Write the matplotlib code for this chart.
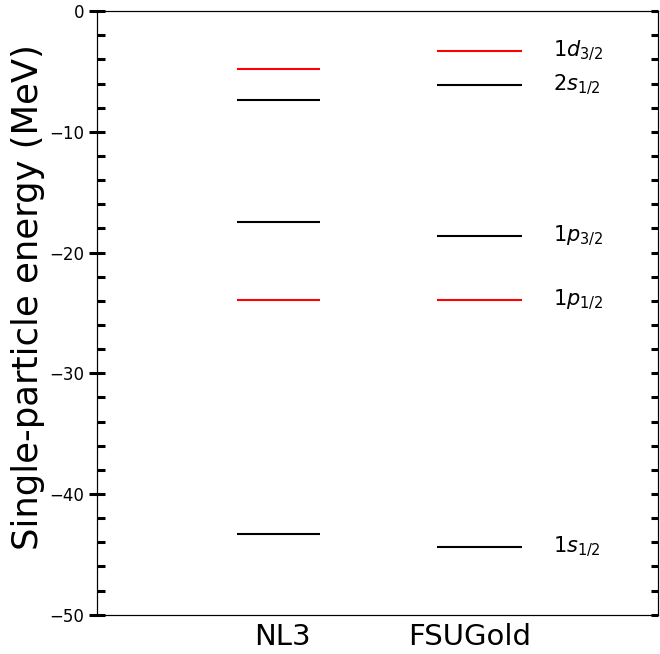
import matplotlib.pyplot as plt
from matplotlib.ticker import MultipleLocator

# single-particle levels (MeV)
models = ["NL3", "FSUGold"]
states = [r"$1d_{3/2}$", r"$2s_{1/2}$", r"$1p_{3/2}$", r"$1p_{1/2}$", r"$1s_{1/2}$"]
colors = ["red", "black", "black", "red", "black"]
nl3 = [-4.8, -7.4, -17.5, -23.9, -43.3]
fsugold = [-3.3, -6.1, -18.6, -23.9, -44.4]

fig, ax = plt.subplots(figsize=(6.6, 6.54), dpi=100)
fig.subplots_adjust(left=0.147, right=0.997, top=0.983, bottom=0.06)

# level bars for each model
spans = [(0.75, 1.19), (1.82, 2.27)]
for (x0, x1), levels in zip(spans, [nl3, fsugold]):
    for e, c in zip(levels, colors):
        ax.hlines(e, x0, x1, colors=c, lw=1.5)

for e, s in zip(fsugold, states):
    ax.text(2.44, e, s, fontsize=15, va="center", ha="left")

ax.set_xlim(0, 3)
ax.set_ylim(-50, 0)
ax.set_xticks([0.99, 1.99])
ax.set_xticklabels(models, fontsize=21)
ax.tick_params(axis="x", length=0, pad=6)
ax.yaxis.set_major_locator(MultipleLocator(10))
ax.yaxis.set_minor_locator(MultipleLocator(2))
ax.tick_params(axis="y", which="major", direction="inout", length=11.5, width=2.2, labelsize=12)
ax.tick_params(axis="y", which="minor", direction="in", length=6, width=2.2)
ax.set_ylabel("Single-particle energy (MeV)", fontsize=25.5)
ax.yaxis.set_label_coords(-0.093, 0.527)

ax2 = ax.twinx()
ax2.set_ylim(-50, 0)
ax2.yaxis.set_major_locator(MultipleLocator(10))
ax2.yaxis.set_minor_locator(MultipleLocator(2))
ax2.tick_params(axis="y", which="both", direction="in", length=5, width=2.2, labelright=False)

plt.savefig("out.png")
